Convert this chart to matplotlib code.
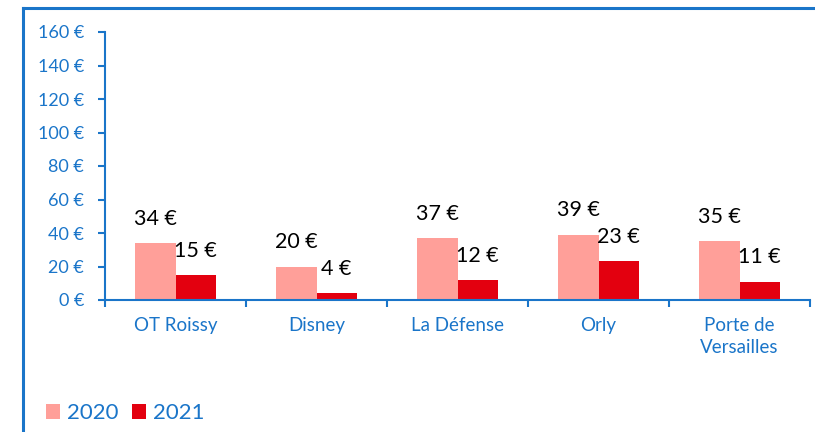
import matplotlib.pyplot as plt
import numpy as np
from matplotlib.lines import Line2D

# Données
categories = ["OT Roissy", "Disney", "La Défense", "Orly", "Porte de\nVersailles"]
v2020 = [34, 20, 37, 39, 35]
v2021 = [15, 4, 12, 23, 11]
series_names = ["2020", "2021"]
yticks = [0, 20, 40, 60, 80, 100, 120, 140, 160]

bleu = "#1A75C9"
rose = "#FF9F99"
rouge = "#E3000F"

plt.rcParams['font.family'] = ['Lato', 'DejaVu Sans']

fig = plt.figure(figsize=(8.15, 4.32), dpi=100)
ax = fig.add_axes([105/815, 1-300/432, 705/815, 268/432])

x = np.arange(len(categories))
w = 0.284
b1 = ax.bar(x - w/2, v2020, w, color=rose, label=series_names[0])
b2 = ax.bar(x + w/2, v2021, w, color=rouge, label=series_names[1])

for bars, vals in ((b1, v2020), (b2, v2021)):
    for r, v in zip(bars, vals):
        ax.annotate(f"{v} €", (r.get_x() + r.get_width()/2, v), xytext=(0, 17.5),
                    textcoords="offset points", ha="center", va="center",
                    fontsize=15.5, color="black")

ax.set_xlim(-0.5, len(categories) - 0.5)
ax.set_ylim(0, 160)
ax.set_yticks(yticks)
ax.set_yticklabels([f"{t} €" for t in yticks])
ax.set_xticks(x)
ax.set_xticklabels(categories, linespacing=1.35)
ax.set_xticks(np.arange(len(categories) + 1) - 0.5, minor=True)

for s in ("top", "right"):
    ax.spines[s].set_visible(False)
for s in ("left", "bottom"):
    ax.spines[s].set_color(bleu)
    ax.spines[s].set_linewidth(1.5)

ax.tick_params(axis="y", colors=bleu, labelsize=13, length=5, width=1.5, pad=10)
ax.tick_params(axis="x", which="major", colors=bleu, labelsize=13.5, length=0, pad=12)
ax.tick_params(axis="x", which="minor", colors=bleu, length=5, width=1.5)

# cadre du graphique
fig.add_artist(Line2D([23/815, 1], [1-8/432, 1-8/432], color=bleu, lw=2.2))
fig.add_artist(Line2D([23/815, 23/815], [0, 1-8/432], color=bleu, lw=2.2))

leg = fig.legend(handles=[b1, b2], loc="center left", bbox_to_anchor=(0.056, 1-413/432),
                 ncol=2, frameon=False, fontsize=16, handlelength=0.65, handleheight=0.65,
                 handletextpad=0.3, columnspacing=0.6, borderaxespad=0, borderpad=0)
for t in leg.get_texts():
    t.set_color(bleu)

plt.savefig("out.png", dpi=100)
